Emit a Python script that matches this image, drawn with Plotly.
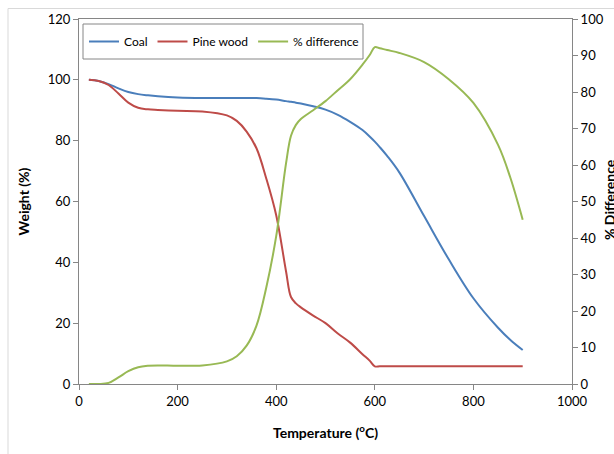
import plotly.graph_objects as go

temperature = [20, 40, 60, 80, 100, 120, 140, 160, 200, 250, 300, 320, 340, 360, 380, 400,
               420, 430, 440, 450, 475, 500, 525, 550, 575, 590, 600, 610, 625, 650, 700,
               750, 800, 850, 875, 900]
coal = [100, 99.6, 98.6, 97.2, 96, 95.3, 94.9, 94.6, 94.2, 94, 94, 94, 94, 94, 93.8, 93.5,
        93, 92.8, 92.5, 92.2, 91.3, 90.2, 88.5, 86.2, 83.5, 81.3, 79.7, 77.9, 75, 69.5,
        55.2, 41, 28.2, 18.5, 14.5, 11.2]
pine_wood = [100, 99.6, 98.3, 95.5, 92.5, 90.8, 90.3, 90.1, 89.8, 89.6, 88.3, 86.5, 83, 77.5,
             67.5, 55.5, 37, 28.6, 26.5, 25.2, 22.5, 20, 16.6, 13.6, 9.8, 7.6, 5.8, 5.8, 5.8,
             5.8, 5.8, 5.8, 5.8, 5.8, 5.8, 5.8]
pct_difference = [0, 0, 0.3, 1.8, 3.5, 4.6, 5, 5.1, 5, 5.1, 6.2, 7.6, 10.5, 16, 26.5, 40.5,
                  60.5, 68, 71, 72.6, 75, 77.5, 80.5, 83.5, 87.5, 90.2, 92.3, 92.0, 91.5,
                  90.7, 88.2, 83.5, 77, 65.5, 56.5, 45]

x_ticks = [0, 200, 400, 600, 800, 1000]
y_ticks = [0, 20, 40, 60, 80, 100, 120]
y2_ticks = [0, 10, 20, 30, 40, 50, 60, 70, 80, 90, 100]

FONT = "Lato, 'Open Sans', sans-serif"
AXIS_COLOR = "#868686"

# plot area in pixels: left 79, right 572, top 19, bottom 384
PL, PR, PT, PB = 79, 572, 19, 384
def px(xp):
    return (xp - PL) / (PR - PL)
def py(yp):
    return (PB - yp) / (PB - PT)

fig = go.Figure()
fig.add_trace(go.Scatter(x=temperature, y=coal, name="Coal", mode="lines",
                         line=dict(color="#4A7EBB", width=2, shape="spline", smoothing=1)))
fig.add_trace(go.Scatter(x=temperature, y=pine_wood, name="Pine wood", mode="lines",
                         line=dict(color="#BE4B48", width=2, shape="spline", smoothing=1)))
fig.add_trace(go.Scatter(x=temperature, y=pct_difference, name="% difference", mode="lines",
                         yaxis="y2",
                         line=dict(color="#98B954", width=2, shape="spline", smoothing=1)))

fig.update_layout(
    width=614, height=454,
    margin=dict(l=PL, r=614 - PR, t=PT, b=454 - PB, autoexpand=False),
    paper_bgcolor="white", plot_bgcolor="white",
    font=dict(family=FONT, size=13, color="#000000"),
    showlegend=True,
    legend=dict(orientation="h", x=px(84), y=py(41.5), xanchor="left", yanchor="middle",
                borderwidth=0, bgcolor="rgba(0,0,0,0)",
                font=dict(size=12), itemwidth=30),
    xaxis=dict(range=[0, 1000], tickvals=x_ticks, showgrid=False, zeroline=False,
               automargin=False,
               showline=True, linecolor=AXIS_COLOR, linewidth=1, mirror=True,
               ticks="outside", ticklen=5, tickcolor=AXIS_COLOR,
               title=dict(text="<b>Temperature (<sup>o</sup>C)</b>", font=dict(size=14),
                          standoff=20)),
    yaxis=dict(range=[0, 120], tickvals=y_ticks, showgrid=False, zeroline=False,
               automargin=False,
               showline=True, linecolor=AXIS_COLOR, linewidth=1,
               ticks="outside", ticklen=5, tickcolor=AXIS_COLOR,
               title=dict(text="<b>Weight (%)</b>", font=dict(size=14), standoff=14)),
    yaxis2=dict(range=[0, 100], tickvals=y2_ticks, overlaying="y", side="right",
                showgrid=False, zeroline=False, automargin=False,
                showline=True, linecolor=AXIS_COLOR, linewidth=1,
                ticks="outside", ticklen=5, tickcolor=AXIS_COLOR),
    annotations=[
        dict(text="<b>% Difference</b>", xref="paper", yref="paper",
             x=px(609), y=py(200), xanchor="center", yanchor="middle",
             textangle=-90, showarrow=False, font=dict(size=14)),
    ],
    shapes=[
        dict(type="rect", xref="paper", yref="paper",
             x0=px(8), x1=px(640), y0=py(480), y1=py(8.5),
             line=dict(color="#D9D9D9", width=1), layer="below"),
        dict(type="rect", xref="paper", yref="paper",
             x0=px(83), x1=px(363), y0=py(59), y1=py(24),
             line=dict(color=AXIS_COLOR, width=1), fillcolor="white", layer="below"),
    ],
)

fig.write_html("out.html", config={"displayModeBar": False},
               post_script="document.body.style.margin='0';")
